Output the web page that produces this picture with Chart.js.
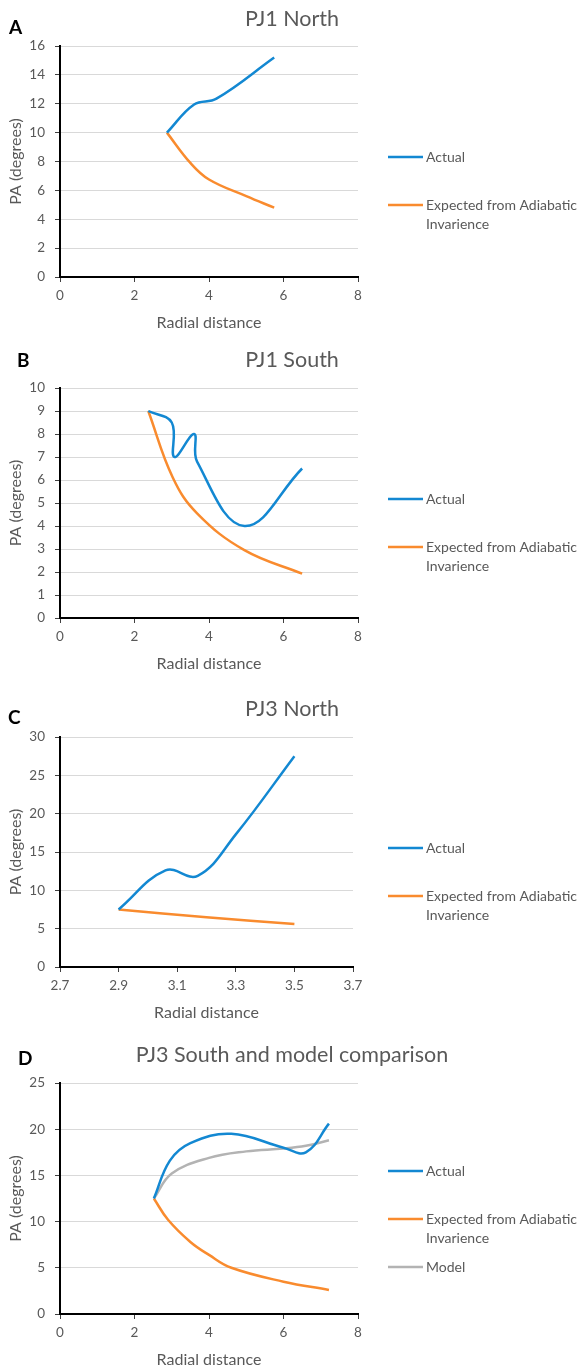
<!DOCTYPE html>
<html>
<head>
<meta charset="utf-8">
<script src="https://cdn.jsdelivr.net/npm/chart.js@4.4.1/dist/chart.umd.min.js"></script>
<style>
  body { margin: 0; background: #fff; width: 580px; height: 1370px; position: relative; overflow: hidden; }
  canvas { position: absolute; left: 0; }
</style>
</head>
<body>
<canvas id="chartA" width="580" height="340" style="top:0px"></canvas>
<canvas id="chartB" width="580" height="350" style="top:340px"></canvas>
<canvas id="chartC" width="580" height="340" style="top:690px"></canvas>
<canvas id="chartD" width="580" height="340" style="top:1030px"></canvas>
<script>
// ---- data ----
const seriesNames = ['Actual', 'Expected from Adiabatic Invarience', 'Model'];

// A: PJ1 North
const pj1nActualR = [2.87, 3.6, 4.2, 5.75];
const pj1nActualPA = [10, 11.95, 12.35, 15.2];
const pj1nExpectedR = [2.87, 3.5, 4.0, 5.0, 5.75];
const pj1nExpectedPA = [10, 7.9, 6.75, 5.6, 4.8];

// B: PJ1 South
const pj1sActualR = [2.37, 3.0, 3.07, 3.6, 3.68, 4.95, 6.5];
const pj1sActualPA = [9.0, 8.5, 7.0, 8.0, 6.8, 4.0, 6.5];
const pj1sExpectedR = [2.37, 3.03, 3.68, 4.95, 6.5];
const pj1sExpectedPA = [9.0, 6.1, 4.55, 2.95, 1.93];

// C: PJ3 North
const pj3nActualR = [2.9, 3.06, 3.17, 3.3, 3.5];
const pj3nActualPA = [7.5, 12.6, 11.9, 17.3, 27.5];
const pj3nExpectedR = [2.9, 3.2, 3.5];
const pj3nExpectedPA = [7.5, 6.5, 5.6];

// D: PJ3 South and model comparison
const pj3sActualR = [2.52, 2.95, 3.5, 4.6, 6.0, 6.6, 7.22];
const pj3sActualPA = [12.5, 16.6, 18.5, 19.5, 18.0, 17.5, 20.6];
const pj3sExpectedR = [2.52, 2.9, 3.5, 4.0, 4.6, 6.0, 7.22];
const pj3sExpectedPA = [12.5, 10.2, 7.8, 6.4, 5.0, 3.5, 2.6];
const pj3sModelR = [2.52, 3.0, 4.0, 5.0, 6.0, 6.6, 7.22];
const pj3sModelPA = [12.5, 15.2, 16.9, 17.6, 17.9, 18.2, 18.8];

const colors = ['#1388D2', '#F98B2E', '#B3B3B3'];
const textGrey = '#595959';
const fontFamily = 'Lato, "Open Sans", sans-serif';

function zip(xs, ys) {
  return xs.map((x, i) => ({ x: x, y: ys[i] }));
}

// draws the panel letter, the title and the Excel-style legend on the right
const panelDecor = {
  id: 'panelDecor',
  afterDraw(chart, args, opts) {
    const ctx = chart.ctx;
    ctx.save();
    ctx.textBaseline = 'middle';

    ctx.fillStyle = '#000';
    ctx.font = 'bold 19px ' + fontFamily;
    ctx.textAlign = 'left';
    ctx.fillText(opts.letter, opts.letterX, opts.letterY);

    ctx.fillStyle = textGrey;
    ctx.font = '21.5px ' + fontFamily;
    ctx.textAlign = 'center';
    ctx.fillText(opts.title, 292, opts.titleY);

    ctx.font = '14px ' + fontFamily;
    ctx.textAlign = 'left';
    let y = opts.legendY;
    chart.data.datasets.forEach((ds) => {
      ctx.strokeStyle = ds.borderColor;
      ctx.lineWidth = 2.5;
      ctx.beginPath();
      ctx.moveTo(388, y);
      ctx.lineTo(423, y);
      ctx.stroke();
      const lines = ds.label === seriesNames[1] ? ['Expected from Adiabatic', 'Invarience'] : [ds.label];
      lines.forEach((t, i) => ctx.fillText(t, 426, y + i * 19));
      y += 48;
    });
    ctx.restore();
  }
};

function makePanel(id, cfg) {
  const canvas = document.getElementById(id);
  const h = canvas.height;
  const datasets = cfg.series.map((s, i) => ({
    label: s.name,
    data: zip(s.r, s.pa),
    borderColor: colors[i],
    backgroundColor: colors[i],
    borderWidth: 2.5,
    showLine: true,
    tension: 0.4,
    pointRadius: 0,
    fill: false
  }));

  return new Chart(canvas, {
    type: 'scatter',
    data: { datasets: datasets },
    plugins: [panelDecor],
    options: {
      responsive: false,
      animation: false,
      layout: {
        padding: { left: 0, top: cfg.plotTop, right: 580 - cfg.plotRight, bottom: h - cfg.plotBottom - 55 }
      },
      plugins: {
        legend: { display: false },
        tooltip: { enabled: false },
        panelDecor: cfg.decor
      },
      scales: {
        x: {
          type: 'linear',
          min: cfg.xMin,
          max: cfg.xMax,
          ticks: { stepSize: cfg.xStep, color: textGrey, font: { family: fontFamily, size: 13.5 }, padding: 6 },
          grid: { drawOnChartArea: false, drawTicks: true, tickLength: 5, tickColor: '#404040' },
          border: { color: '#000', width: 2 },
          title: { display: true, text: 'Radial distance', color: textGrey, font: { family: fontFamily, size: 16 }, padding: 0 },
          afterFit(scale) { scale.height = 55; }
        },
        y: {
          min: 0,
          max: cfg.yMax,
          ticks: { stepSize: cfg.yStep, color: textGrey, font: { family: fontFamily, size: 13.5 }, padding: 10 },
          grid: { color: '#D9D9D9', lineWidth: 1, tickLength: 5, tickColor: '#404040' },
          border: { color: '#000', width: 2 },
          title: { display: true, text: 'PA (degrees)', color: textGrey, font: { family: fontFamily, size: 16 }, padding: { top: 6, bottom: 0 } },
          afterFit(scale) { scale.width = 60; }
        }
      }
    }
  });
}

makePanel('chartA', {
  plotTop: 46, plotBottom: 277, plotRight: 358,
  xMin: 0, xMax: 8, xStep: 2, yMax: 16, yStep: 2,
  series: [
    { name: seriesNames[0], r: pj1nActualR, pa: pj1nActualPA },
    { name: seriesNames[1], r: pj1nExpectedR, pa: pj1nExpectedPA }
  ],
  decor: { letter: 'A', letterX: 9, letterY: 28, titleY: 19, title: 'PJ1 North', legendY: 157 }
});

makePanel('chartB', {
  plotTop: 48, plotBottom: 278, plotRight: 358,
  xMin: 0, xMax: 8, xStep: 2, yMax: 10, yStep: 1,
  series: [
    { name: seriesNames[0], r: pj1sActualR, pa: pj1sActualPA },
    { name: seriesNames[1], r: pj1sExpectedR, pa: pj1sExpectedPA }
  ],
  decor: { letter: 'B', letterX: 17, letterY: 21, titleY: 20, title: 'PJ1 South', legendY: 159 }
});

makePanel('chartC', {
  plotTop: 47, plotBottom: 277, plotRight: 353,
  xMin: 2.7, xMax: 3.7, xStep: 0.2, yMax: 30, yStep: 5,
  series: [
    { name: seriesNames[0], r: pj3nActualR, pa: pj3nActualPA },
    { name: seriesNames[1], r: pj3nExpectedR, pa: pj3nExpectedPA }
  ],
  decor: { letter: 'C', letterX: 8, letterY: 28, titleY: 19.5, title: 'PJ3 North', legendY: 158 }
});

makePanel('chartD', {
  plotTop: 53, plotBottom: 284, plotRight: 358,
  xMin: 0, xMax: 8, xStep: 2, yMax: 25, yStep: 5,
  series: [
    { name: seriesNames[0], r: pj3sActualR, pa: pj3sActualPA },
    { name: seriesNames[1], r: pj3sExpectedR, pa: pj3sExpectedPA },
    { name: seriesNames[2], r: pj3sModelR, pa: pj3sModelPA }
  ],
  decor: { letter: 'D', letterX: 18, letterY: 28.5, titleY: 25, title: 'PJ3 South and model comparison', legendY: 141 }
});
</script>
</body>
</html>
